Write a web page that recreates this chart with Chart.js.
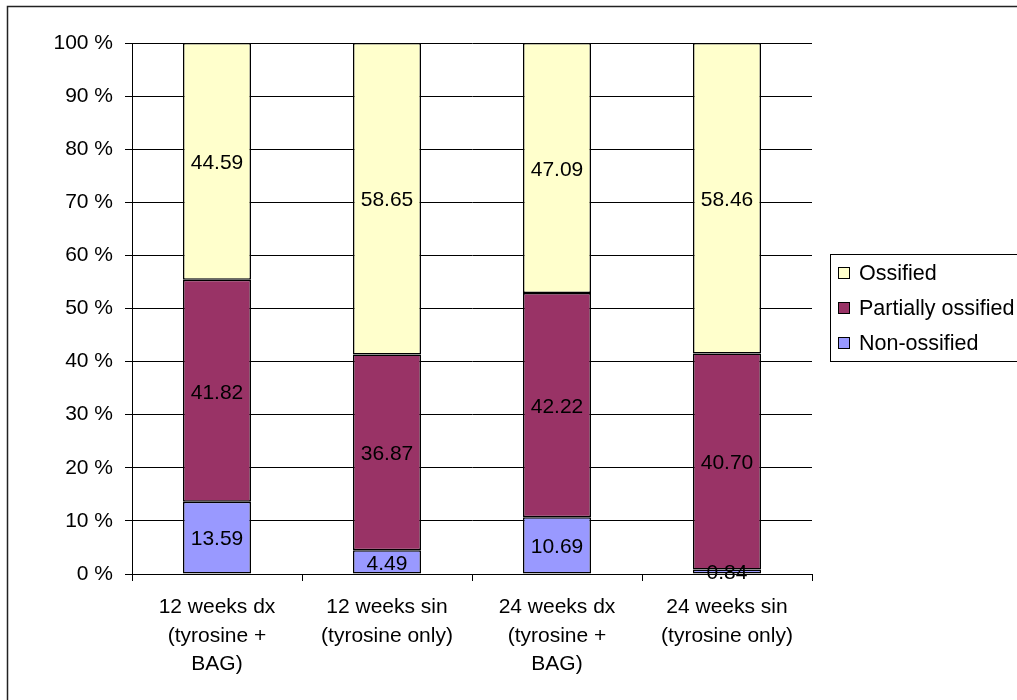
<!DOCTYPE html>
<html><head><meta charset="utf-8">
<script src="https://cdn.jsdelivr.net/npm/chart.js@4/dist/chart.umd.min.js"></script>
<style>html,body{margin:0;padding:0;background:#fff}#wrap{width:1017px;height:700px;position:relative}</style>
</head><body><div id="wrap"><canvas id="c" width="1017" height="700"></canvas></div>
<script>
const categories = [["12 weeks dx","(tyrosine +","BAG)"],["12 weeks sin","(tyrosine only)"],["24 weeks dx","(tyrosine +","BAG)"],["24 weeks sin","(tyrosine only)"]];
const nonOssified = [13.59, 4.49, 10.69, 0.84];
const partiallyOssified = [41.82, 36.87, 42.22, 40.70];
const ossified = [44.59, 58.65, 47.09, 58.46];
const yTicks = [0,10,20,30,40,50,60,70,80,90,100];
const FONT = "'Liberation Sans', Arial, sans-serif";

const series = [
  {label:"Non-ossified", data:nonOssified, color:"#9999FF"},
  {label:"Partially ossified", data:partiallyOssified, color:"#993366"},
  {label:"Ossified", data:ossified, color:"#FFFFCC"}
];

const framePlugin = {
  id:'frame',
  beforeDraw(chart){
    const ctx = chart.ctx;
    ctx.save();
    ctx.fillStyle='#fff';ctx.fillRect(0,0,chart.width,chart.height);
    ctx.strokeStyle='#222';ctx.lineWidth=1.5;
    ctx.strokeRect(7.5,6.5,1100,800);
    ctx.restore();
  },
  afterDatasetsDraw(chart){
    const ctx = chart.ctx;
    ctx.save();
    ctx.font = "21px " + FONT;
    ctx.fillStyle = '#000';
    ctx.textAlign='center';ctx.textBaseline='middle';
    chart.data.datasets.forEach((ds,i)=>{
      const meta = chart.getDatasetMeta(i);
      meta.data.forEach((bar,j)=>{
        const y = (bar.y + bar.base)/2;
        ctx.fillText(ds.data[j].toFixed(2), bar.x, y+2);
      });
    });
    // legend
    const lx=830.5, ly=254.5;
    ctx.strokeStyle='#000';ctx.lineWidth=1;
    ctx.strokeRect(lx, ly, 300, 107);
    const items=[series[2],series[1],series[0]];
    ctx.textAlign='left';
    items.forEach((s,k)=>{
      const cy = 273 + k*35;
      ctx.fillStyle=s.color;
      ctx.fillRect(838.5, cy-5.5, 11, 11);
      ctx.strokeRect(838.5, cy-5.5, 11, 11);
      ctx.fillStyle='#000';
      ctx.font = "21.5px " + FONT;
      ctx.fillText(s.label, 859, cy+1);
    });
    ctx.restore();
  }
};

new Chart(document.getElementById('c'), {
  type:'bar',
  data:{
    labels:categories,
    datasets:series.map(s=>({label:s.label,data:s.data,backgroundColor:s.color,borderColor:'#000',borderWidth:1.5,borderSkipped:false,barPercentage:0.4,categoryPercentage:1.0}))
  },
  options:{
    responsive:false,animation:false,
    layout:{padding:{top:43,right:205,left:0,bottom:0}},
    plugins:{legend:{display:false},tooltip:{enabled:false}},
    scales:{
      x:{stacked:true,
        grid:{display:true,drawOnChartArea:false,drawTicks:true,tickLength:7,color:'#000',offset:true},
        border:{display:true,color:'#000',width:1},
        ticks:{font:{size:21,family:FONT,lineHeight:1.36},color:'#000',padding:12,maxRotation:0,autoSkip:false},
        afterFit(s){s.height=126;}
      },
      y:{stacked:true,min:0,max:100,
        afterBuildTicks(s){s.ticks=yTicks.map(v=>({value:v}));},
        grid:{color:'#000',lineWidth:1,tickLength:7},
        border:{display:true,color:'#000',width:1},
        ticks:{font:{size:21,family:FONT},color:'#000',padding:12,callback:v=>v+' %'},
        afterFit(s){s.width=132;}
      }
    }
  },
  plugins:[framePlugin]
});
</script></body></html>
